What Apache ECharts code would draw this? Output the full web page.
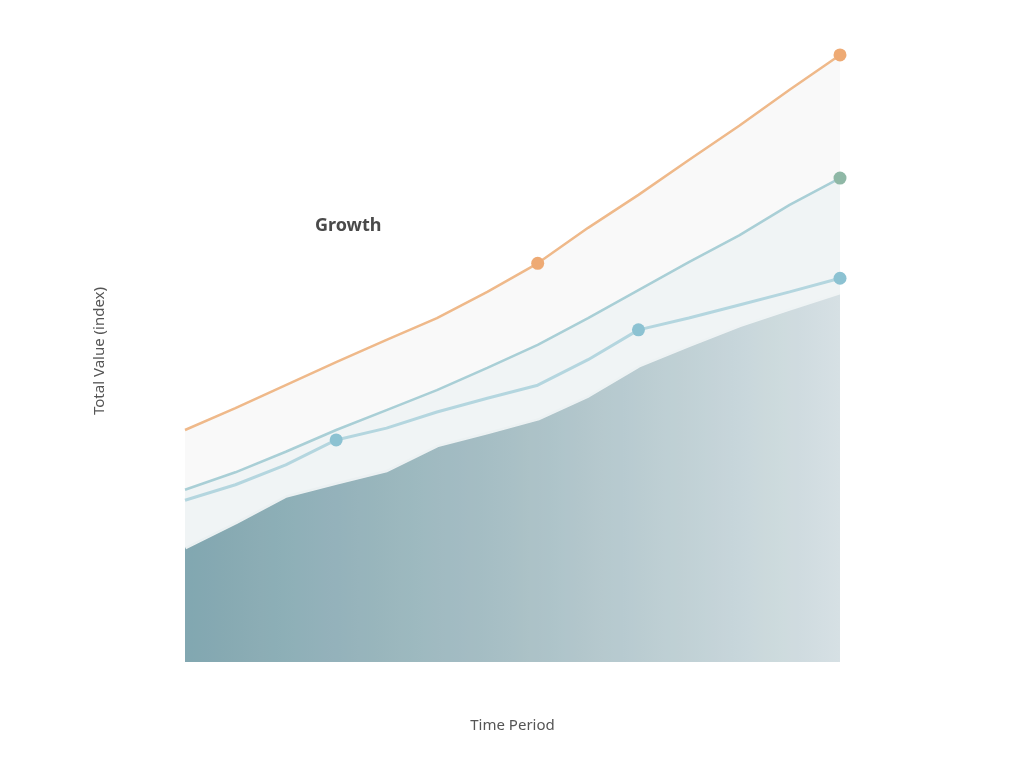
<!DOCTYPE html>
<html>
<head>
<meta charset="utf-8">
<script src="https://cdn.jsdelivr.net/npm/echarts@6/dist/echarts.min.js"></script>
<style>html,body{margin:0;padding:0;background:#fff;}#c{width:1024px;height:768px;}</style>
</head>
<body>
<div id="c"></div>
<script>
const categories = ['2010','2011','2012','2013','2014','2015','2016','2017','2018','2019','2020','2021','2022','2023'];
const orangeValues = [37.3, 40.8, 44.5, 48.2, 51.8, 55.3, 59.5, 64.1, 69.8, 75.1, 80.7, 86.2, 92.0, 97.6];
const greenValues  = [27.7, 30.5, 33.8, 37.3, 40.5, 43.7, 47.3, 51.0, 55.3, 59.8, 64.3, 68.6, 73.5, 77.8];
const blueValues   = [26.0, 28.5, 31.7, 35.7, 37.6, 40.2, 42.4, 44.5, 48.6, 53.4, 55.3, 57.4, 59.5, 61.7];
const areaValues   = [18.5, 22.5, 26.8, 28.9, 30.9, 34.9, 37.0, 39.2, 42.9, 47.7, 51.0, 54.2, 56.9, 59.5];
const orangeMarked = [7, 13];
const greenMarked  = [13];
const blueMarked   = [3, 9, 13];

function sizeFor(marked){ return function(v, p){ return marked.indexOf(p.dataIndex) >= 0 ? 13 : 0; }; }

const chart = echarts.init(document.getElementById('c'));
chart.setOption({
  backgroundColor: '#ffffff',
  animation: false,
  title: { text: 'Growth', left: 310, top: 212, textStyle: { fontSize: 18, fontWeight: 'bold', color: '#4a4a4a', fontFamily: 'Noto Sans' } },
  grid: { left: 185, right: 184, top: 40, bottom: 106 },
  xAxis: {
    type: 'category', data: categories, boundaryGap: false,
    name: 'Time Period', nameLocation: 'middle', nameGap: 56,
    nameTextStyle: { fontSize: 15, color: '#555', fontFamily: 'Noto Sans' },
    axisLine: { show: false }, axisTick: { show: false }, axisLabel: { show: false }, splitLine: { show: false }
  },
  yAxis: {
    type: 'value', min: 0, max: 100,
    name: 'Total Value (index)', nameLocation: 'middle', nameGap: 78,
    nameTextStyle: { fontSize: 15, color: '#555', fontFamily: 'Noto Sans' },
    axisLine: { show: false }, axisTick: { show: false }, axisLabel: { show: false }, splitLine: { show: false }
  },
  series: [
    {
      name: 'Orange', type: 'line', data: orangeValues, z: 3,
      symbol: 'circle', symbolSize: sizeFor(orangeMarked), showSymbol: true,
      lineStyle: { color: '#efb98a', width: 2.5 },
      itemStyle: { color: '#eeaa74' },
      areaStyle: { color: 'rgba(190,195,195,0.14)' }
    },
    {
      name: 'Green', type: 'line', data: greenValues, z: 3,
      symbol: 'circle', symbolSize: sizeFor(greenMarked), showSymbol: true,
      lineStyle: { color: '#a9cfd6', width: 2.5 },
      itemStyle: { color: '#8fb8a6' },
      areaStyle: { color: 'rgba(150,195,205,0.12)' }
    },
    {
      name: 'Area', type: 'line', data: areaValues, z: 2,
      symbol: 'none',
      lineStyle: { color: 'rgba(255,255,255,0.95)', width: 5 },
      areaStyle: {
        opacity: 1,
        color: new echarts.graphic.LinearGradient(0, 0, 1, 0, [
          { offset: 0, color: '#7aa2ac' },
          { offset: 0.5, color: '#a9c0c6' },
          { offset: 1, color: '#dfe7ea' }
        ])
      }
    },
    {
      name: 'Blue', type: 'line', data: blueValues, z: 4,
      symbol: 'circle', symbolSize: sizeFor(blueMarked), showSymbol: true,
      lineStyle: { color: '#b4d6df', width: 3 },
      itemStyle: { color: '#8cc2d2' }
    }
  ]
});
</script>
</body>
</html>
